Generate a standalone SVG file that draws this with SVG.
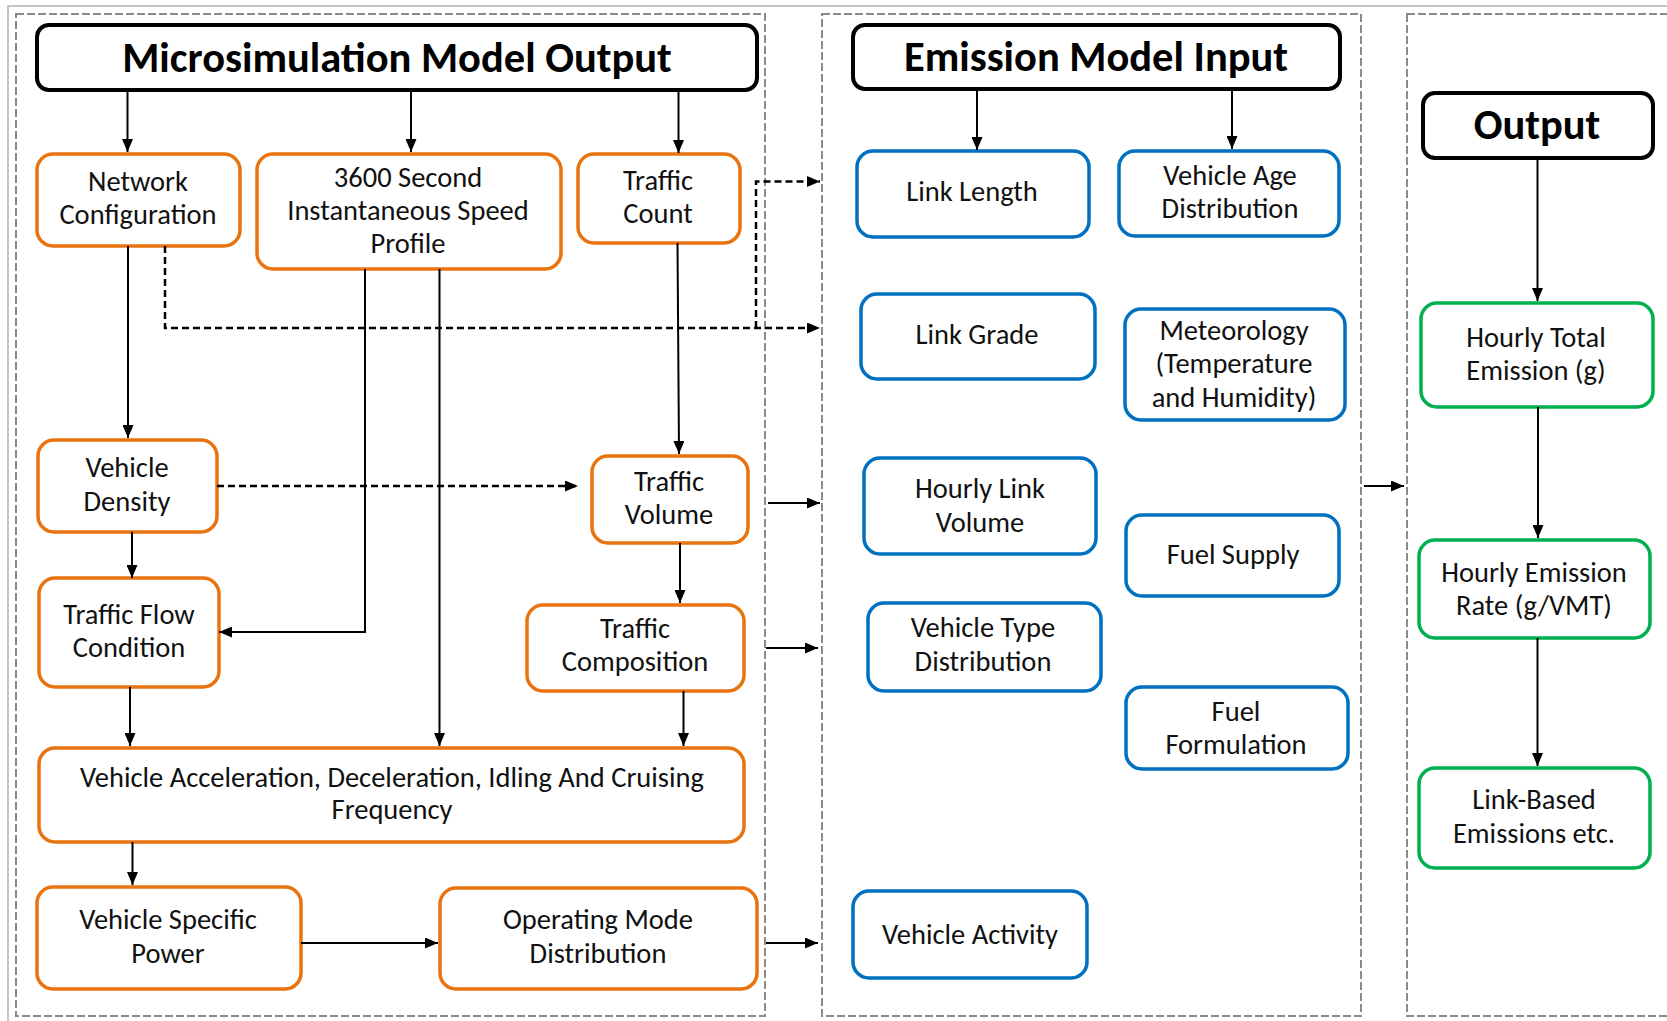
<svg xmlns="http://www.w3.org/2000/svg" width="1667" height="1021" viewBox="0 0 1667 1021">
  <defs>
    <marker id="arrow" viewBox="0 0 13 11" refX="13" refY="5.5" markerWidth="13" markerHeight="11" markerUnits="userSpaceOnUse" orient="auto">
      <path d="M0,0 L13,5.5 L0,11 z" fill="#000"/>
    </marker>
  </defs>
  <style>
    .frame { fill: none; stroke: #c4c4c4; stroke-width: 2; }
    .panel { fill: none; stroke: #8a8a8a; stroke-width: 2; stroke-dasharray: 8 3; }
    .title rect { fill: #fff; stroke: #000; stroke-width: 4; }
    .title text { font-family: Carlito, Lato, "Open Sans", sans-serif; font-weight: bold; font-size: 42.5px; fill: #000; text-anchor: middle; }
    .node rect { fill: #fff; stroke-width: 3.5; }
    .node text { font-family: Carlito, Lato, "Open Sans", sans-serif; font-size: 28.5px; fill: #111; text-anchor: middle; }
    .orange rect { stroke: #E8730F; }
    .blue rect { stroke: #0070C0; }
    .green rect { stroke: #00B050; }
    .link { fill: none; stroke: #000; stroke-width: 2; marker-end: url(#arrow); }
    .dash { stroke-width: 2.5; stroke-dasharray: 7 4; }
  </style>

  <rect width="1667" height="1021" fill="#fff"/>

  <!-- outer frame -->
  <path class="frame" d="M8,1021 V6 H1667"/>

  <!-- column panels -->
  <rect class="panel" x="16" y="14" width="749" height="1002"/>
  <rect class="panel" x="822" y="14" width="539" height="1002"/>
  <rect class="panel" x="1407" y="14" width="300" height="1002"/>

  <!-- column headers -->
  <g id="micro-output" class="title">
    <rect x="37" y="25" width="720" height="65" rx="12"/>
    <text x="397" y="72">Microsimulation Model Output</text>
  </g>
  <g id="emission-input" class="title">
    <rect x="853" y="25" width="487" height="64" rx="12"/>
    <text x="1096" y="71">Emission Model Input</text>
  </g>
  <g id="output" class="title">
    <rect x="1423" y="93" width="230" height="65" rx="12"/>
    <text x="1537" y="139">Output</text>
  </g>

  <!-- microsimulation outputs -->
  <g id="network-configuration" class="node orange">
    <rect x="37" y="154" width="203" height="92" rx="16"/>
    <text x="138" y="191">Network</text>
    <text x="138" y="224">Configuration</text>
  </g>
  <g id="speed-profile" class="node orange">
    <rect x="257" y="154" width="304" height="115" rx="16"/>
    <text x="408" y="187">3600 Second</text>
    <text x="408" y="220">Instantaneous Speed</text>
    <text x="408" y="253">Profile</text>
  </g>
  <g id="traffic-count" class="node orange">
    <rect x="578" y="154" width="162" height="89" rx="16"/>
    <text x="658" y="190">Traffic</text>
    <text x="658" y="223">Count</text>
  </g>
  <g id="vehicle-density" class="node orange">
    <rect x="38" y="440" width="179" height="92" rx="16"/>
    <text x="127" y="477">Vehicle</text>
    <text x="127" y="511">Density</text>
  </g>
  <g id="traffic-volume" class="node orange">
    <rect x="592" y="456" width="156" height="87" rx="16"/>
    <text x="669" y="491">Traffic</text>
    <text x="669" y="524">Volume</text>
  </g>
  <g id="traffic-flow-condition" class="node orange">
    <rect x="39" y="578" width="180" height="109" rx="16"/>
    <text x="129" y="624">Traffic Flow</text>
    <text x="129" y="657">Condition</text>
  </g>
  <g id="traffic-composition" class="node orange">
    <rect x="527" y="605" width="217" height="86" rx="16"/>
    <text x="635" y="638">Traffic</text>
    <text x="635" y="671">Composition</text>
  </g>
  <g id="driving-mode-frequency" class="node orange">
    <rect x="39" y="748" width="705" height="94" rx="16"/>
    <text x="392" y="787">Vehicle Acceleration, Deceleration, Idling And Cruising</text>
    <text x="392" y="819">Frequency</text>
  </g>
  <g id="vehicle-specific-power" class="node orange">
    <rect x="37" y="887" width="264" height="102" rx="16"/>
    <text x="168" y="929">Vehicle Specific</text>
    <text x="168" y="963">Power</text>
  </g>
  <g id="operating-mode-distribution" class="node orange">
    <rect x="440" y="888" width="317" height="101" rx="16"/>
    <text x="598" y="929">Operating Mode</text>
    <text x="598" y="963">Distribution</text>
  </g>

  <!-- emission model inputs -->
  <g id="link-length" class="node blue">
    <rect x="857" y="151" width="232" height="86" rx="16"/>
    <text x="972" y="201">Link Length</text>
  </g>
  <g id="vehicle-age-distribution" class="node blue">
    <rect x="1119" y="151" width="220" height="85" rx="16"/>
    <text x="1230" y="185">Vehicle Age</text>
    <text x="1230" y="218">Distribution</text>
  </g>
  <g id="link-grade" class="node blue">
    <rect x="861" y="294" width="234" height="85" rx="16"/>
    <text x="977" y="344">Link Grade</text>
  </g>
  <g id="meteorology" class="node blue">
    <rect x="1125" y="309" width="220" height="111" rx="16"/>
    <text x="1234" y="340">Meteorology</text>
    <text x="1234" y="373">(Temperature</text>
    <text x="1234" y="407">and Humidity)</text>
  </g>
  <g id="hourly-link-volume" class="node blue">
    <rect x="864" y="458" width="232" height="96" rx="16"/>
    <text x="980" y="498">Hourly Link</text>
    <text x="980" y="532">Volume</text>
  </g>
  <g id="fuel-supply" class="node blue">
    <rect x="1126" y="515" width="213" height="81" rx="16"/>
    <text x="1233" y="564">Fuel Supply</text>
  </g>
  <g id="vehicle-type-distribution" class="node blue">
    <rect x="868" y="603" width="233" height="88" rx="16"/>
    <text x="983" y="637">Vehicle Type</text>
    <text x="983" y="671">Distribution</text>
  </g>
  <g id="fuel-formulation" class="node blue">
    <rect x="1126" y="687" width="222" height="82" rx="16"/>
    <text x="1236" y="721">Fuel</text>
    <text x="1236" y="754">Formulation</text>
  </g>
  <g id="vehicle-activity" class="node blue">
    <rect x="853" y="891" width="234" height="87" rx="16"/>
    <text x="970" y="944">Vehicle Activity</text>
  </g>

  <!-- outputs -->
  <g id="hourly-total-emission" class="node green">
    <rect x="1421" y="303" width="232" height="104" rx="16"/>
    <text x="1536" y="347">Hourly Total</text>
    <text x="1536" y="380">Emission (g)</text>
  </g>
  <g id="hourly-emission-rate" class="node green">
    <rect x="1419" y="540" width="231" height="98" rx="16"/>
    <text x="1534" y="582">Hourly Emission</text>
    <text x="1534" y="615">Rate (g/VMT)</text>
  </g>
  <g id="link-based-emissions" class="node green">
    <rect x="1419" y="768" width="231" height="100" rx="16"/>
    <text x="1534" y="809">Link-Based</text>
    <text x="1534" y="843">Emissions etc.</text>
  </g>

  <!-- connectors -->
  <g id="connectors">
    <path class="link" d="M127.5,90 V152"/>
    <path class="link" d="M411,90 V152"/>
    <path class="link" d="M678.5,88 V153"/>
    <path class="link" d="M128,246 V438"/>
    <path class="link" d="M365,269 V632 H219"/>
    <path class="link" d="M439.5,269 V746"/>
    <path class="link" d="M677.5,243 L679,454"/>
    <path class="link" d="M132,532 V578"/>
    <path class="link" d="M680,543 V603"/>
    <path class="link" d="M130,687 V746"/>
    <path class="link" d="M683.5,691 V746"/>
    <path class="link" d="M132.5,842 V885"/>
    <path class="link" d="M301,943 H438"/>
    <path class="link dash" d="M165,246 V328 H820"/>
    <path class="link dash" d="M756,328 V181.5 H820"/>
    <path class="link dash" d="M217,486 H578"/>
    <path class="link" d="M768,503 H820"/>
    <path class="link" d="M766,648 H818"/>
    <path class="link" d="M766,943 H818"/>
    <path class="link" d="M977,89 V150"/>
    <path class="link" d="M1232,89 V149"/>
    <path class="link" d="M1364,486 H1404"/>
    <path class="link" d="M1537.5,158 V301"/>
    <path class="link" d="M1538,407 V538"/>
    <path class="link" d="M1537.5,638 V766"/>
  </g>
</svg>
